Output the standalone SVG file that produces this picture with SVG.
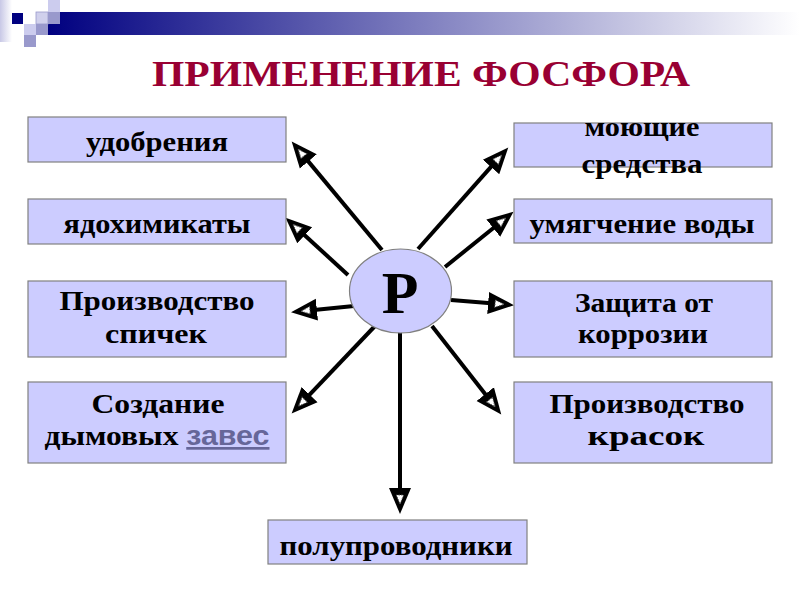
<svg xmlns="http://www.w3.org/2000/svg" width="800" height="600" viewBox="0 0 800 600">
<defs>
<linearGradient id="bar" x1="0" y1="0" x2="1" y2="0">
<stop offset="0" stop-color="#000080"/>
<stop offset="1" stop-color="#ffffff"/>
</linearGradient>
<linearGradient id="edge" x1="0" y1="0" x2="1" y2="0">
<stop offset="0" stop-color="#c8c8e6"/>
<stop offset="1" stop-color="#ffffff"/>
</linearGradient>
<marker id="ah" markerUnits="userSpaceOnUse" viewBox="0 0 27 24" markerWidth="27" markerHeight="24" refX="3" refY="12" orient="auto">
<path d="M0,1 L26,12 L0,23 Z" fill="#000"/>
<path d="M7,8.3 L16,12 L7,15.7 Z" fill="#fff" stroke="#555" stroke-width="1" stroke-dasharray="1.5,1.2"/>
</marker>
<style>
.box{fill:#ccccff;stroke:#808080;stroke-width:1.2}
.lbl{font-family:"Liberation Serif","Times New Roman",serif;font-weight:bold;font-size:28px;fill:#000;text-anchor:middle}
.link{font-family:"Liberation Sans",Arial,sans-serif;font-weight:bold;font-size:27px;fill:#666699;text-decoration:underline}
.con{stroke:#000;stroke-width:4;fill:none;marker-end:url(#ah)}
</style>
</defs>
<rect width="800" height="600" fill="#fff"/>
<g id="header">
<rect x="0" y="0" width="12" height="42" fill="url(#edge)"/>
<rect x="48" y="12" width="752" height="23" fill="url(#bar)"/>
<rect x="12" y="13" width="11" height="11" fill="#000080"/>
<rect x="48" y="0" width="12" height="12" fill="#ccccee"/>
<rect x="36" y="12" width="12" height="12" fill="#d0d0ec" stroke="#9999cc" stroke-width="0.8"/>
<rect x="48" y="12" width="12" height="12" fill="#9999cc"/>
<rect x="36" y="24" width="12" height="11" fill="#9999cc"/>
<rect x="24" y="24" width="12" height="11" fill="#ccccee"/>
<rect x="24" y="35" width="12" height="12" fill="#9999cc"/>
</g>
<text id="title" x="421" y="86" font-family="'Liberation Serif','Times New Roman',serif" font-weight="bold" font-size="36" fill="#990033" text-anchor="middle" textLength="538" lengthAdjust="spacingAndGlyphs">ПРИМЕНЕНИЕ ФОСФОРА</text>
<g id="connectors">
<line class="con" x1="382" y1="250" x2="306.4" y2="159.1"/>
<line class="con" x1="348" y1="275" x2="302.5" y2="233.2"/>
<line class="con" x1="354" y1="306" x2="313.9" y2="309.9"/>
<line class="con" x1="418" y1="249" x2="493" y2="164.7"/>
<line class="con" x1="445" y1="267" x2="495.6" y2="226.2"/>
<line class="con" x1="451" y1="300" x2="491.1" y2="303.3"/>
<line class="con" x1="375" y1="326" x2="307.5" y2="396.8"/>
<line class="con" x1="432" y1="326" x2="487.1" y2="396.5"/>
<line class="con" x1="400" y1="332" x2="400" y2="491"/>
</g>
<g id="center">
<ellipse cx="400.5" cy="291" rx="51" ry="42" fill="#ccccff" stroke="#808080" stroke-width="1.2"/>
<text x="400" y="313" font-family="'Liberation Serif','Times New Roman',serif" font-weight="bold" font-size="60" text-anchor="middle">Р</text>
</g>
<g id="n-udobreniya">
<rect class="box" x="28" y="117" width="258" height="45"/>
<text class="lbl" x="157" y="151" textLength="142" lengthAdjust="spacingAndGlyphs">удобрения</text>
</g>
<g id="n-yadokhimikaty">
<rect class="box" x="28" y="199" width="258" height="45"/>
<text class="lbl" x="157" y="233" textLength="187" lengthAdjust="spacingAndGlyphs">ядохимикаты</text>
</g>
<g id="n-spichki">
<rect class="box" x="28" y="281" width="258" height="76"/>
<text class="lbl" x="157" y="310" textLength="195" lengthAdjust="spacingAndGlyphs">Производство</text>
<text class="lbl" x="156" y="343" textLength="102" lengthAdjust="spacingAndGlyphs">спичек</text>
</g>
<g id="n-zavesy">
<rect class="box" x="28" y="382" width="258" height="81"/>
<text class="lbl" x="158" y="413" textLength="133" lengthAdjust="spacingAndGlyphs">Создание</text>
<text class="lbl" x="157" y="445" textLength="225" lengthAdjust="spacingAndGlyphs">дымовых <tspan class="link">завес</tspan></text>
</g>
<g id="n-moyushchie">
<rect class="box" x="514" y="123" width="258" height="44"/>
<text class="lbl" x="642" y="136" textLength="115" lengthAdjust="spacingAndGlyphs">моющие</text>
<text class="lbl" x="642" y="173" textLength="121" lengthAdjust="spacingAndGlyphs">средства</text>
</g>
<g id="n-umyagchenie">
<rect class="box" x="514" y="199" width="258" height="44"/>
<text class="lbl" x="642" y="233" textLength="225" lengthAdjust="spacingAndGlyphs">умягчение воды</text>
</g>
<g id="n-zashchita">
<rect class="box" x="514" y="281" width="258" height="76"/>
<text class="lbl" x="644" y="312" textLength="138" lengthAdjust="spacingAndGlyphs">Защита от</text>
<text class="lbl" x="643" y="343" textLength="130" lengthAdjust="spacingAndGlyphs">коррозии</text>
</g>
<g id="n-kraski">
<rect class="box" x="514" y="382" width="258" height="81"/>
<text class="lbl" x="647" y="413" textLength="195" lengthAdjust="spacingAndGlyphs">Производство</text>
<text class="lbl" x="646" y="445" textLength="117" lengthAdjust="spacingAndGlyphs">красок</text>
</g>
<g id="n-poluprovodniki">
<rect class="box" x="268" y="520" width="259" height="44"/>
<text class="lbl" x="396" y="555" textLength="233" lengthAdjust="spacingAndGlyphs">полупроводники</text>
</g>
</svg>
